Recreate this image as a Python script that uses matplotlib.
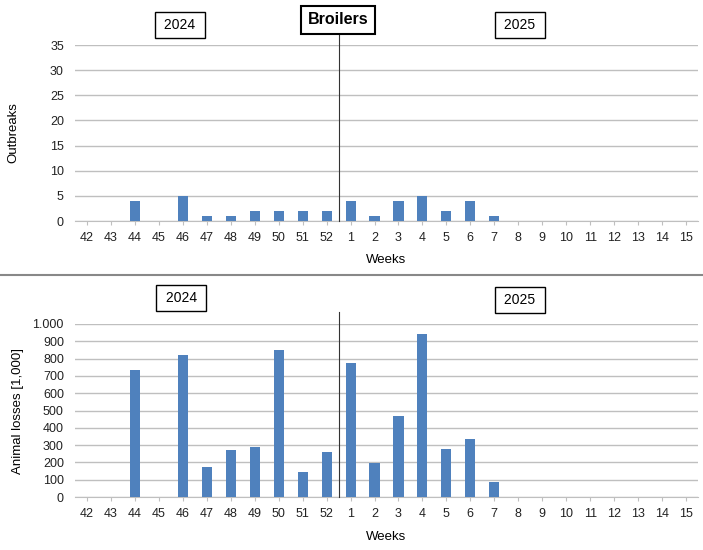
import matplotlib.pyplot as plt
import numpy as np
from matplotlib.ticker import FuncFormatter

plt.rcParams['font.family'] = ['Liberation Sans', 'DejaVu Sans']

weeks = ['42', '43', '44', '45', '46', '47', '48', '49', '50', '51', '52',
         '1', '2', '3', '4', '5', '6', '7', '8', '9', '10', '11', '12', '13', '14', '15']
outbreaks = [0, 0, 4, 0, 5, 1, 1, 2, 2, 2, 2,
             4, 1, 4, 5, 2, 4, 1, 0, 0, 0, 0, 0, 0, 0, 0]
losses = [0, 0, 735, 0, 820, 175, 270, 290, 850, 145, 260,
          775, 198, 470, 940, 280, 335, 85, 0, 0, 0, 0, 0, 0, 0, 0]

bar_color = '#4F81BD'
grid_color = '#BFBFBF'
x = np.arange(len(weeks))

fig = plt.figure(figsize=(7.03, 5.5), dpi=100)
W, H = 703, 550


def make_axes(y0_px, y1_px):
    # y0_px: pixel row of the top gridline, y1_px: pixel row of baseline
    left, right = 75, 698
    return fig.add_axes([left / W, (H - y1_px) / H, (right - left) / W, (y1_px - y0_px) / H])


def style(ax, ymax, step):
    ax.set_xlim(-0.5, len(weeks) - 0.5)
    ax.set_ylim(0, ymax)
    ax.set_yticks(np.arange(0, ymax + 1, step))
    ax.yaxis.grid(True, color=grid_color, linewidth=1)
    ax.set_axisbelow(True)
    for s in ['top', 'right', 'left']:
        ax.spines[s].set_visible(False)
    ax.spines['bottom'].set_color(grid_color)
    ax.set_xticks(x)
    ax.set_xticklabels(weeks)
    ax.tick_params(axis='x', length=3, color=grid_color, labelsize=9, pad=5, labelcolor='#222222')
    ax.tick_params(axis='y', length=0, labelsize=9, pad=8, labelcolor='#222222')


def box(x_px, y_px, text, size=10, bold=False, lw=1.0):
    fig.text(x_px / W, 1 - y_px / H, text, ha='center', va='center', fontsize=size,
             fontweight='bold' if bold else 'normal',
             bbox=dict(boxstyle='square,pad=0.4', facecolor='white', edgecolor='black', linewidth=lw))


# top chart: outbreaks
ax1 = make_axes(45, 221)
ax1.bar(x, outbreaks, width=0.42, color=bar_color, zorder=3)
style(ax1, 35, 5)
ax1.plot([10.5, 10.5], [0, 37.3], color='#333333', linewidth=0.8, clip_on=False, zorder=4)
ax1.set_ylabel('Outbreaks', fontsize=9.5, labelpad=22)
ax1.set_xlabel('Weeks', fontsize=9.5, labelpad=7)

# bottom chart: animal losses
ax2 = make_axes(324, 497)
ax2.bar(x, losses, width=0.42, color=bar_color, zorder=3)
style(ax2, 1000, 100)
ax2.yaxis.set_major_formatter(FuncFormatter(lambda v, p: f'{int(v):,}'.replace(',', '.')))
ax2.plot([10.5, 10.5], [0, 1070], color='#333333', linewidth=0.8, clip_on=False, zorder=4)
ax2.set_ylabel('Animal losses [1,000]', fontsize=9.5, labelpad=6)
ax2.set_xlabel('Weeks', fontsize=9.5, labelpad=8)

# separator between panels
fig.add_artist(plt.Line2D([0, 1], [1 - 275 / H, 1 - 275 / H], color='#888888', linewidth=1.5))

box(180, 25, ' 2024 ')
box(338, 20, 'Broilers', size=11.5, bold=True, lw=1.5)
box(520, 25, ' 2025 ')
box(181, 298, ' 2024 ')
box(520, 300, ' 2025 ')

fig.savefig('out.png', dpi=100)
